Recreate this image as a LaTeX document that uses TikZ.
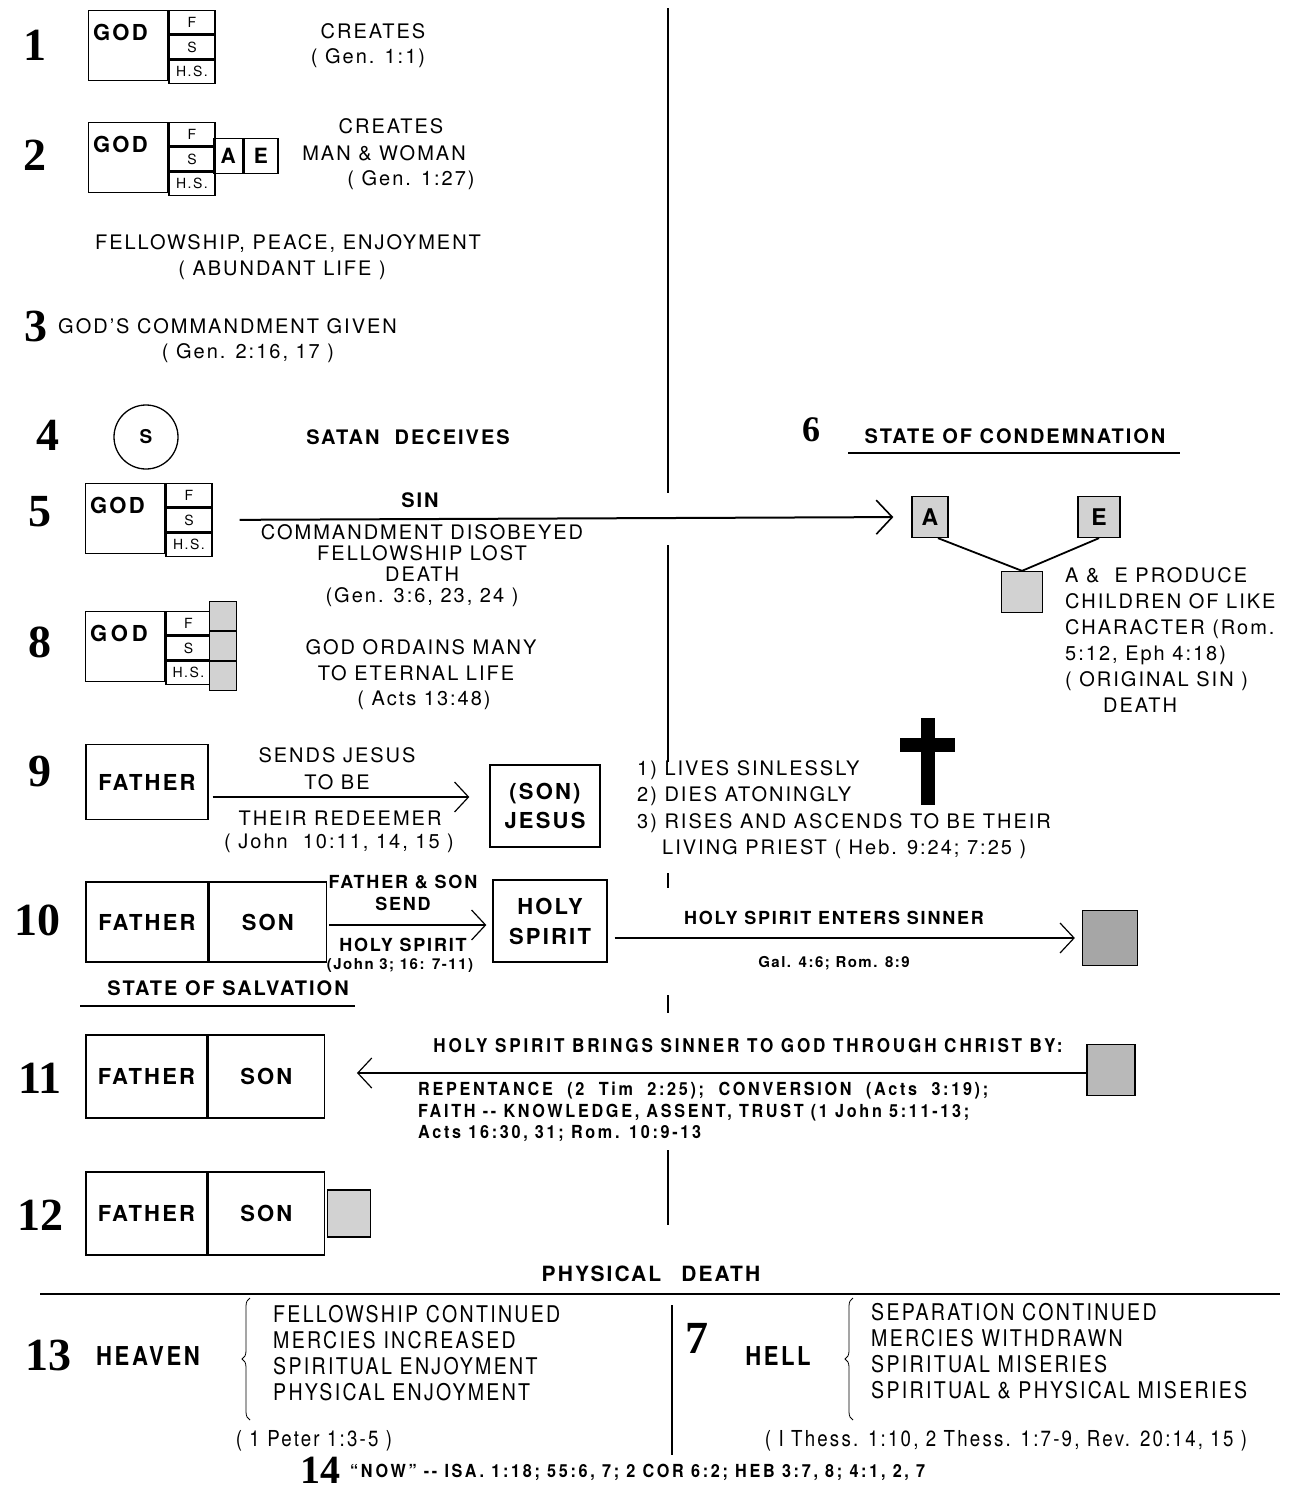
\documentclass[tikz,border=0pt]{standalone}
\usepackage{fontspec}
\setmainfont{TeX Gyre Heros}[LetterSpace=10]
\newfontfamily\spacedfont{TeX Gyre Heros}[FakeStretch=0.9, LetterSpace=15]
\newfontfamily\tallfont{TeX Gyre Heros}[FakeStretch=0.85, LetterSpace=10]
\newfontfamily\numfont{Liberation Serif}
\usetikzlibrary{positioning,arrows.meta,decorations.pathreplacing}

% god with father, son and holy spirit column
\newcommand{\godbox}[6]{%
  \node[box, minimum width=#4pt, minimum height=70pt, anchor=north west] (#1) at (#2,#3) {};
  \node[boxtxt, anchor=west] (#1t) at ([xshift=5pt,yshift=-22pt]#1.north west) {#6};
  \node[cell, minimum width=#5pt, anchor=north west] (#1f) at (#1.north east) {F};
  \node[cell, minimum width=#5pt, below=0pt of #1f] (#1s) {S};
  \node[cell, minimum width=#5pt, below=0pt of #1s] (#1h) {H.S.};
}

\begin{document}
\begin{tikzpicture}[x=1pt,y=-1pt,
    txt/.style={font=\fontsize{20}{22}\selectfont, inner sep=0pt},
    btxt/.style={font=\fontsize{20}{22}\selectfont\bfseries, inner sep=0pt},
    boxtxt/.style={font=\fontsize{22}{22}\selectfont\bfseries, inner sep=0pt},
    small/.style={font=\fontsize{18}{20}\selectfont\bfseries, inner sep=0pt},
    tiny/.style={font=\fontsize{15}{18}\selectfont\bfseries, inner sep=0pt},
    cond/.style={font=\spacedfont\fontsize{19}{22}\selectfont\bfseries, inner sep=0pt},
    tall/.style={font=\tallfont\fontsize{23}{26.2}\selectfont, inner sep=0pt},
    num/.style={font=\numfont\bfseries\fontsize{46}{46}\selectfont, inner sep=0pt},
    box/.style={draw, line width=1.3pt, inner sep=0pt},
    cell/.style={box, minimum height=23.33pt, font=\fontsize{14}{14}\selectfont},
    letter/.style={box, minimum height=35pt, font=\fontsize{21}{21}\selectfont\bfseries},
    shaded/.style={box, fill=gray!35, font=\fontsize{23}{23}\selectfont\bfseries},
    dark/.style={box, fill=gray!70},
    send/.style={-{Straight Barb[length=14pt,width=30pt,line width=1.2pt]}, line width=1.3pt},
    divider/.style={line width=2.2pt},
  ]
\useasboundingbox (0,0) rectangle (1295,1494);

% 1 -- creation
\node[num] (n1) at (35,45) {1};
\godbox{god1}{88}{10}{79}{46}{GOD}
\node[txt] (creates1) at (373,31) {CREATES};
\node[txt] (gen1) at (368,58) {( Gen. 1:1)};

% 2 -- man and woman
\node[num] (n2) at (35,155) {2};
\godbox{god2}{88}{122}{79}{46}{GOD}
\node[letter, minimum width=29pt, anchor=north west] (adam2) at (213,138) {A};
\node[letter, minimum width=34pt, right=0pt of adam2] (eve2) {E};
\node[txt] (creates2) at (391,126) {CREATES};
\node[txt] (man2) at (384,153) {MAN \& WOMAN};
\node[txt] (gen2) at (411,180) {( Gen. 1:27)};

\node[txt] (fellow) at (288,243) {FELLOWSHIP, PEACE, ENJOYMENT};
\node[txt] (abundant) at (282,270) {( ABUNDANT LIFE )};

% 3 -- commandment
\node[num] (n3) at (36,326) {3};
\node[txt, anchor=west] (command) at (58,326) {GOD'S COMMANDMENT GIVEN};
\node[txt] (gen3) at (248,353) {( Gen. 2:16, 17 )};

% 4 -- satan
\node[num] (n4) at (48,435) {4};
\node[draw, circle, line width=1.3pt, minimum size=64pt, font=\fontsize{19}{19}\selectfont\bfseries] (satan) at (146,437) {S};
\node[btxt] (deceives) at (408,437) {SATAN \ DECEIVES};

% 6 -- condemnation
\node[num, font=\numfont\bfseries\fontsize{36}{36}\selectfont] (n6) at (811,430) {6};
\node[btxt] (condemn) at (1015,436) {STATE OF CONDEMNATION};
\draw[line width=1.3pt] (848,453) -- (1180,453);

% 5 -- sin
\node[num] (n5) at (40,512) {5};
\godbox{god5}{85}{483}{79}{46}{GOD}
\node[shaded, minimum width=36pt, minimum height=41pt] (adam6) at (930,517) {A};
\node[shaded, minimum width=42pt, minimum height=41pt] (eve6) at (1099,517) {E};
\node[shaded, minimum width=41pt, minimum height=41pt] (child6) at (1022,592) {};
\draw[line width=2pt, shorten <=27pt, shorten >=18pt,
  -{Straight Barb[length=16pt,width=34pt,line width=1.6pt]}] (god5s.east) -- (adam6.west);
\draw[line width=1.8pt] ([xshift=8pt]adam6.south) -- (child6.north);
\draw[line width=1.8pt] (eve6.south) -- (child6.north);
\node[btxt] (sin) at (420,500) {SIN};
\node[txt, align=center, font=\fontsize{20}{21}\selectfont] (disobey) at (422,566)
  {COMMANDMENT DISOBEYED\\FELLOWSHIP LOST\\DEATH\\(Gen. 3:6, 23, 24 )};
\node[txt, align=left, anchor=north west, font=\fontsize{20}{26}\selectfont] (produce) at (1065,567)
  {A \& \ E PRODUCE\\CHILDREN OF LIKE\\CHARACTER (Rom.\\5:12, Eph 4:18)\\( ORIGINAL SIN )\\\hspace*{38pt}DEATH};

% 8 -- election
\node[num] (n8) at (40,642) {8};
\godbox{god8}{85}{611}{79}{45}{G\,O\,D}
\node[shaded, minimum width=27pt, minimum height=28.7pt, anchor=north west] (elect1) at (209,601) {};
\node[shaded, minimum width=27pt, minimum height=28.7pt, below=0pt of elect1] (elect2) {};
\node[shaded, minimum width=27pt, minimum height=28.7pt, below=0pt of elect2] (elect3) {};
\node[txt] (ordains) at (421,647) {GOD ORDAINS MANY};
\node[txt] (eternal) at (416,673) {TO ETERNAL LIFE};
\node[txt] (acts8) at (424,700) {( Acts 13:48)};

% 9 -- redeemer
\node[num] (n9) at (40,771) {9};
\node[box, boxtxt, minimum width=122pt, minimum height=75pt] (father9) at (147,782) {FATHER};
\node[box, boxtxt, minimum width=110pt, minimum height=82pt, align=center, font=\fontsize{22}{29}\selectfont\bfseries] (jesus9) at (545,806) {(SON)\\JESUS};
\coordinate (row9) at (0,797);
\draw[send, shorten <=4pt, shorten >=20pt] (father9.east |- row9) -- (jesus9.west |- row9);
\node[txt] (sends) at (337,755) {SENDS JESUS};
\node[txt] (tobe) at (337,782) {TO BE};
\node[txt] (redeemer) at (340,818) {THEIR REDEEMER};
\node[txt] (john9) at (339,843) {( John \ 10:11, 14, 15 )};
\node[txt, align=left, anchor=north west, font=\fontsize{20}{26.5}\selectfont] (works) at (637,760)
  {1) LIVES SINLESSLY\\2) DIES ATONINGLY\\3) RISES AND ASCENDS TO BE THEIR\\\hspace*{25pt}LIVING PRIEST ( Heb. 9:24; 7:25 )};
\fill (921,718) rectangle (935,805);
\fill (900,738) rectangle (955,752);

% 10 -- holy spirit sent
\node[num] (n10) at (37,920) {10};
\node[box, boxtxt, minimum width=122pt, minimum height=80pt] (father10) at (147,922) {FATHER};
\node[box, boxtxt, minimum width=117pt, minimum height=80pt, right=0pt of father10] (son10) {SON};
\node[box, boxtxt, minimum width=114pt, minimum height=82pt, align=center, font=\fontsize{22}{30}\selectfont\bfseries] (spirit10) at (550,921) {HOLY\\SPIRIT};
\node[dark, minimum width=55pt, minimum height=55pt] (sinner10) at (1110,938) {};
\draw[send, shorten <=2pt, shorten >=6pt] (son10.east |- 0,925) -- (spirit10.west |- 0,925);
\draw[send, shorten <=7pt, shorten >=7pt] (spirit10.east |- sinner10) -- (sinner10.west);
\node[small] (fs10) at (403,882) {FATHER \& SON};
\node[small] (send10) at (403,904) {SEND};
\node[small] (hs10) at (403,945) {HOLY SPIRIT};
\node[tiny] (john10) at (400,966) {(John 3; 16: 7-11)};
\node[small] (enters) at (834,918) {HOLY SPIRIT ENTERS SINNER};
\node[tiny] (gal10) at (834,963) {Gal. 4:6; Rom. 8:9};

\node[btxt] (salvation) at (228,988) {STATE OF SALVATION};
\draw[line width=1.3pt] (80,1006) -- (355,1006);

% 11 -- brought to god
\node[num] (n11) at (40,1078) {11};
\node[box, boxtxt, minimum width=121pt, minimum height=83pt] (father11) at (146.5,1076.5) {FATHER};
\node[box, boxtxt, minimum width=116pt, minimum height=83pt, right=0pt of father11] (son11) {SON};
\node[dark, fill=gray!55, minimum width=48pt, minimum height=51pt] (sinner11) at (1111,1070) {};
\draw[send, shorten <=0pt, shorten >=32pt] (sinner11.west |- 0,1073) -- (son11.east |- 0,1073);
\node[cond] (brings) at (748,1046) {HOLY SPIRIT BRINGS SINNER TO GOD THROUGH CHRIST BY:};
\node[cond, align=left, anchor=north west, font=\spacedfont\fontsize{18}{21.5}\selectfont\bfseries] (means) at (418,1082)
  {REPENTANCE \ (2 \ Tim \ 2:25); \ CONVERSION \ (Acts \ 3:19);\\FAITH -- KNOWLEDGE, ASSENT, TRUST (1 John 5:11-13;\\Acts 16:30, 31; Rom. 10:9-13};

% 12 -- saved
\node[num] (n12) at (40,1215) {12};
\node[box, boxtxt, minimum width=121pt, minimum height=83pt] (father12) at (146.5,1213.5) {FATHER};
\node[box, boxtxt, minimum width=116pt, minimum height=83pt, right=0pt of father12] (son12) {SON};
\node[shaded, minimum width=43pt, minimum height=47pt, right=2pt of son12] (saved12) {};

% dividing line
\draw[divider] (668,8) -- (668,493);
\draw[divider] (668,545) -- (668,762);
\draw[divider] (668,873) -- (668,888);
\draw[divider] (668,995) -- (668,1013);
\draw[line width=1.5pt] (668,1150) -- (668,1225);

% physical death
\node[btxt, font=\fontsize{21}{22}\selectfont\bfseries] (death) at (651,1274) {PHYSICAL\hspace{20pt}DEATH};
\draw[line width=1.5pt] (40,1294) -- (1280,1294);
\draw[line width=1.5pt] (672,1305) -- (672,1455);

% 13 -- heaven
\node[num] (n13) at (48,1355) {13};
\node[tall, font=\tallfont\fontsize{26}{26}\selectfont\bfseries] (heaven) at (148,1356) {HEAVEN};
\coordinate (heavtop) at (250,1298);
\coordinate (heavbot) at (250,1420);
\draw[line width=0.8pt, decorate, decoration={brace, amplitude=8pt}] (heavbot) -- (heavtop);
\node[tall, align=left, anchor=north west] (joys) at (273,1305)
  {FELLOWSHIP CONTINUED\\MERCIES INCREASED\\SPIRITUAL ENJOYMENT\\PHYSICAL ENJOYMENT};
\node[tall, font=\tallfont\fontsize{22}{22}\selectfont] (peter) at (314,1441) {( 1 Peter 1:3-5 )};

% 7 -- hell
\node[num] (n7) at (697,1338) {7};
\node[tall, font=\tallfont\fontsize{26}{26}\selectfont\bfseries] (hell) at (778,1356) {HELL};
\coordinate (helltop) at (853,1298);
\coordinate (hellbot) at (853,1420);
\draw[line width=0.8pt, decorate, decoration={brace, amplitude=8pt}] (hellbot) -- (helltop);
\node[tall, align=left, anchor=north west] (woes) at (871,1303)
  {SEPARATION CONTINUED\\MERCIES WITHDRAWN\\SPIRITUAL MISERIES\\SPIRITUAL \& PHYSICAL MISERIES};
\node[tall, font=\tallfont\fontsize{22}{22}\selectfont] (thess) at (1006,1441) {( I Thess. 1:10, 2 Thess. 1:7-9, Rev. 20:14, 15 )};

% 14 -- now
\node[num, font=\numfont\bfseries\fontsize{40}{40}\selectfont] (n14) at (320,1470) {14};
\node[cond, anchor=west, font=\spacedfont\fontsize{18}{18}\selectfont\bfseries] (now) at (350,1472)
  {“NOW” -- ISA. 1:18; 55:6, 7; 2 COR 6:2; HEB 3:7, 8; 4:1, 2, 7};
\end{tikzpicture}
\end{document}
